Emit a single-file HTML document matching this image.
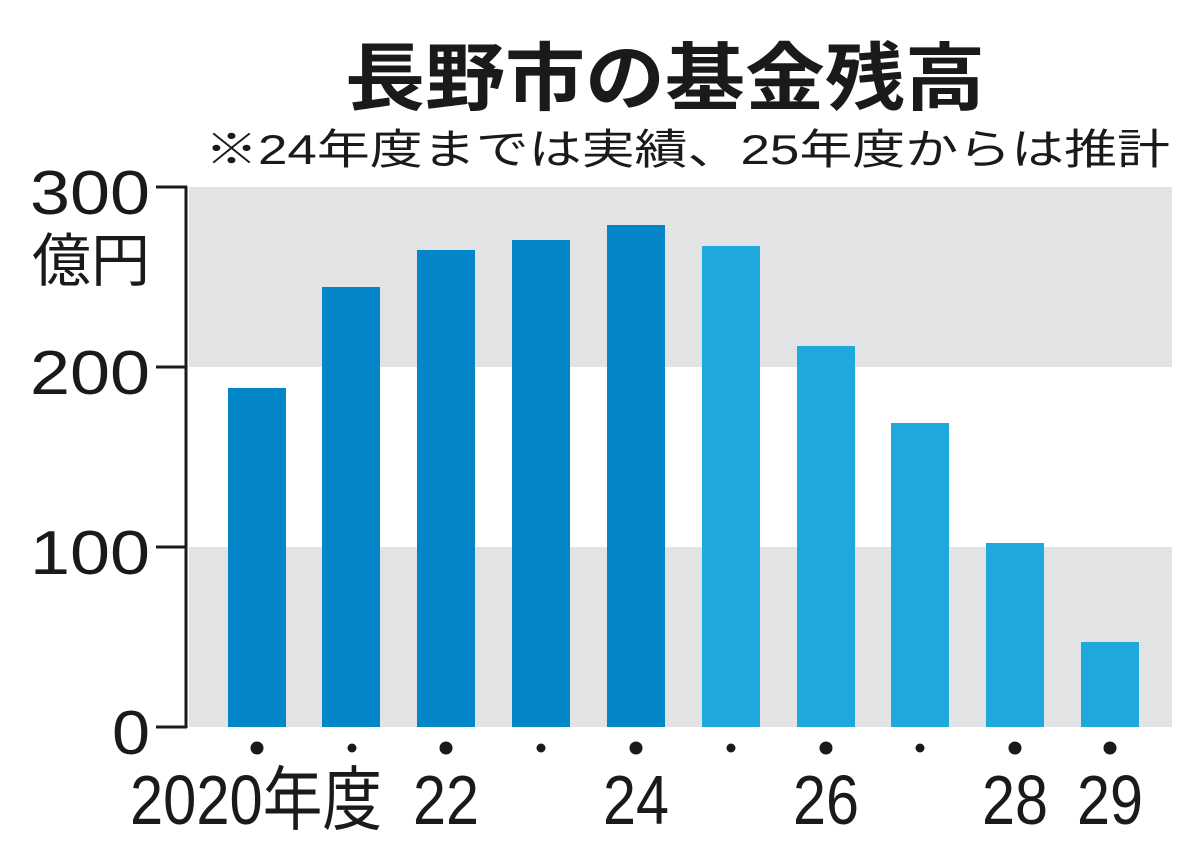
<!DOCTYPE html>
<html><head><meta charset="utf-8"><style>body{margin:0;background:#fff}svg{display:block}</style></head>
<body>
<svg width="1200" height="860" xmlns="http://www.w3.org/2000/svg" font-family="'Liberation Sans','Noto Sans CJK JP',sans-serif">
<rect x="0" y="0" width="1200" height="860" fill="#fff"/>
<text x="665" y="104" font-size="74" font-weight="bold" text-anchor="middle" fill="#1a1a1a" font-family="'Noto Sans CJK JP',sans-serif" textLength="640" lengthAdjust="spacingAndGlyphs">長野市の基金残高</text>
<text x="1170" y="164" font-size="42" text-anchor="end" fill="#1a1a1a" textLength="965" lengthAdjust="spacingAndGlyphs">※24年度までは実績、25年度からは推計</text>
<rect x="189" y="187" width="983" height="180" fill="#e2e3e5"/>
<rect x="189" y="547" width="983" height="180" fill="#e2e3e5"/>
<g stroke="#1a1a1a" stroke-width="3" fill="none">
<line x1="186" y1="186" x2="186" y2="728"/>
<line x1="156" y1="187" x2="187" y2="187"/>
<line x1="156" y1="367" x2="187" y2="367"/>
<line x1="156" y1="547" x2="187" y2="547"/>
<line x1="156" y1="727" x2="187" y2="727"/>
</g>
<g font-size="62" fill="#1a1a1a" text-anchor="end">
<text x="150" y="214" textLength="120" lengthAdjust="spacingAndGlyphs">300</text>
<text x="150" y="394" textLength="120" lengthAdjust="spacingAndGlyphs">200</text>
<text x="150" y="574" textLength="120" lengthAdjust="spacingAndGlyphs">100</text>
<text x="150" y="754" textLength="38" lengthAdjust="spacingAndGlyphs">0</text>
</g>
<text x="32" y="281" font-size="58" fill="#1a1a1a" textLength="118" lengthAdjust="spacingAndGlyphs">億円</text>
<g fill="#0386c7">
<rect x="228" y="388" width="58" height="339"/>
<rect x="322" y="287" width="58" height="440"/>
<rect x="417" y="250" width="58" height="477"/>
<rect x="512" y="240" width="58" height="487"/>
<rect x="607" y="225" width="58" height="502"/>
</g>
<g fill="#1ea8dc">
<rect x="702" y="246" width="58" height="481"/>
<rect x="797" y="346" width="58" height="381"/>
<rect x="891" y="423" width="58" height="304"/>
<rect x="986" y="543" width="58" height="184"/>
<rect x="1081" y="642" width="58" height="85"/>
</g>
<g fill="#1a1a1a">
<circle cx="257" cy="748" r="6.5"/>
<circle cx="352" cy="748" r="4.5"/>
<circle cx="446" cy="748" r="6.5"/>
<circle cx="541" cy="748" r="4.5"/>
<circle cx="636" cy="748" r="6.5"/>
<circle cx="731" cy="748" r="4.5"/>
<circle cx="826" cy="748" r="6.5"/>
<circle cx="920" cy="748" r="4.5"/>
<circle cx="1015" cy="748" r="6.5"/>
<circle cx="1110" cy="748" r="6.5"/>
</g>
<g font-size="70" fill="#1a1a1a">
<text x="130" y="824" textLength="252" lengthAdjust="spacingAndGlyphs">2020年度</text>
<text x="413" y="824" textLength="66" lengthAdjust="spacingAndGlyphs">22</text>
<text x="603" y="824" textLength="66" lengthAdjust="spacingAndGlyphs">24</text>
<text x="793" y="824" textLength="66" lengthAdjust="spacingAndGlyphs">26</text>
<text x="982" y="824" textLength="66" lengthAdjust="spacingAndGlyphs">28</text>
<text x="1077" y="824" textLength="66" lengthAdjust="spacingAndGlyphs">29</text>
</g>
</svg>
</body></html>
